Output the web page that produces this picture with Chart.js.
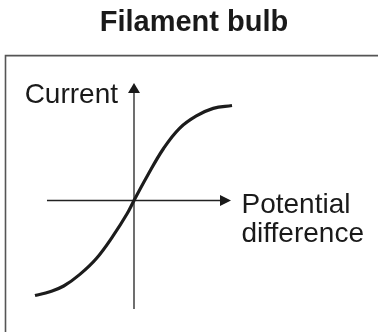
<!DOCTYPE html>
<html><head><meta charset="utf-8">
<script src="https://cdn.jsdelivr.net/npm/chart.js@4"></script>
<style>html,body{margin:0;padding:0;background:#fff}canvas{display:block}</style>
</head><body>
<canvas id="c" width="378" height="332"></canvas>
<script>
const chartTitle = 'Filament bulb';
const yLabel = 'Current';
const xLabelLines = ['Potential', 'difference'];
// I–V characteristic (arbitrary units)
const voltage = [-1.0, -0.85, -0.71, -0.55, -0.38, -0.21, -0.07, 0, 0.13, 0.30, 0.46, 0.63, 0.80, 0.99];
const current = [-1.0, -0.96, -0.90, -0.78, -0.61, -0.37, -0.14, 0, 0.25, 0.55, 0.76, 0.89, 0.97, 1.0];
// drawn extent of the two axes (data units)
const pdAxisRange = [-0.879, 0.98];
const currentAxisRange = [-1.142, 1.237];

const FONT = "'Liberation Sans', Arial, Helvetica, sans-serif";

const sketchPlugin = {
  id: 'sketch',
  beforeDatasetsDraw(chart) {
    const ctx = chart.ctx, a = chart.chartArea;
    const xs = chart.scales.x, ys = chart.scales.y;
    ctx.save();
    // frame (top and left edges)
    ctx.strokeStyle = '#555';
    ctx.lineWidth = 1.6;
    ctx.beginPath();
    ctx.moveTo(a.left - 4.5, chart.height + 2);
    ctx.lineTo(a.left - 4.5, a.top + 0.8);
    ctx.lineTo(chart.width + 2, a.top + 0.8);
    ctx.stroke();

    const x0 = xs.getPixelForValue(0), y0 = ys.getPixelForValue(0);
    const xl = xs.getPixelForValue(pdAxisRange[0]), xr = xs.getPixelForValue(pdAxisRange[1]);
    const yb = ys.getPixelForValue(currentAxisRange[0]), yt = ys.getPixelForValue(currentAxisRange[1]);
    ctx.strokeStyle = '#222';
    ctx.fillStyle = '#1a1a1a';
    ctx.lineWidth = 1.3;
    ctx.beginPath();
    ctx.moveTo(xl, y0); ctx.lineTo(xr - 8, y0);
    ctx.moveTo(x0, yb); ctx.lineTo(x0, yt + 8);
    ctx.stroke();
    // arrow heads
    ctx.beginPath();
    ctx.moveTo(xr, y0); ctx.lineTo(xr - 11, y0 - 5.5); ctx.lineTo(xr - 11, y0 + 5.5); ctx.closePath();
    ctx.fill();
    ctx.beginPath();
    ctx.moveTo(x0, yt); ctx.lineTo(x0 - 6, yt + 10); ctx.lineTo(x0 + 6, yt + 10); ctx.closePath();
    ctx.fill();

    // labels
    ctx.font = '28px ' + FONT;
    ctx.textBaseline = 'alphabetic';
    ctx.textAlign = 'right';
    ctx.fillText(yLabel, x0 - 16, yt + 20);
    ctx.textAlign = 'left';
    xLabelLines.forEach((t, i) => ctx.fillText(t, xr + 10.5, y0 + 12 + i * 29.4));
    ctx.restore();
  }
};

new Chart(document.getElementById('c'), {
  type: 'scatter',
  data: {
    datasets: [{
      data: voltage.map((v, i) => ({ x: v, y: current[i] })),
      showLine: true,
      borderColor: '#1c1c1c',
      borderWidth: 3.2,
      pointRadius: 0,
      tension: 0.4,
      fill: false
    }]
  },
  options: {
    responsive: false,
    animation: false,
    layout: { padding: { left: 10, right: 0, top: 0, bottom: 0 } },
    scales: {
      x: { type: 'linear', display: false, min: -1.2525, max: 2.4646 },
      y: { type: 'linear', display: false, min: -1.3842, max: 1.5337 }
    },
    plugins: {
      legend: { display: false },
      tooltip: { enabled: false },
      title: {
        display: true,
        text: chartTitle,
        color: '#1a1a1a',
        font: { family: FONT, size: 29, weight: 'bold', lineHeight: 1.2 },
        padding: { top: 6, bottom: 14 }
      }
    }
  },
  plugins: [sketchPlugin]
});
</script>
</body></html>
